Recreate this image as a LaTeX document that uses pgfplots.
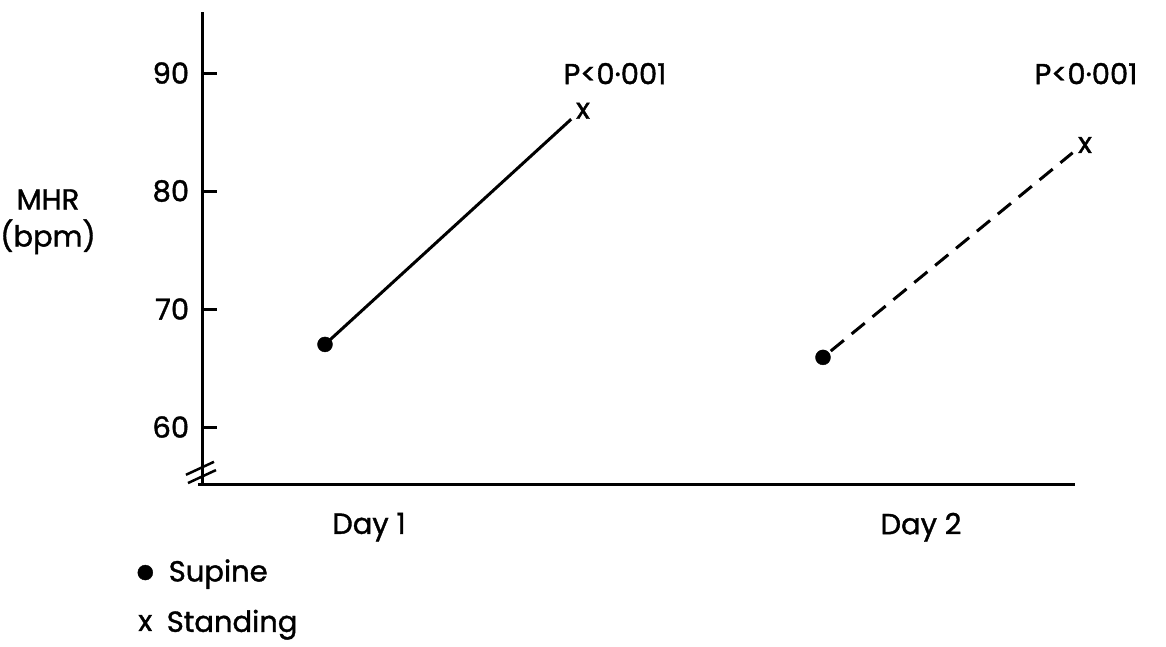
\documentclass[border=0pt]{standalone}
\usepackage{pgfplots}
\pgfplotsset{compat=1.18}
\usepackage{fontspec}
\setmainfont{Poppins}[FakeBold=1.3]
\begin{document}
\fontsize{29}{34}\selectfont
\begin{tikzpicture}
\begin{axis}[
  name=ax,
  x=1pt, y=11.8pt,
  xmin=203, xmax=1075, ymin=55.17, ymax=95.17,
  axis x line=bottom, axis y line=left,
  axis line style={-, line width=3pt},
  ytick={60,70,80,90},
  xtick={369,921}, xticklabels={Day 1, Day 2},
  tick align=inside,
  major tick length=14pt,
  ytick style={line width=3pt, black},
  xtick style={draw=none},
  yticklabel style={xshift=-4pt},
  xticklabel style={yshift=-19pt},
  /pgf/number format/assume math mode=true,
  tick label style={font=\fontsize{29}{34}\selectfont},
  clip=false,
  legend style={draw=none, fill=none, at={(axis description cs:-0.075,-0.155)}, anchor=north west,
    font=\fontsize{29}{34}\selectfont, row sep=20pt, inner sep=0pt},
  legend cell align=left,
]
\addlegendimage{only marks, mark=*, mark size=7.5pt, black}
\addlegendentry{\hspace{14pt}Supine}
\addlegendimage{only marks, mark=text, text mark={x}, black}
\addlegendentry{\hspace{12pt}Standing}
% Day 1
\addplot[black, line width=3pt, shorten >=16pt] coordinates {(325,67.0) (583,87.0)};
% Day 2
\addplot[black, line width=3pt, dash pattern=on 17pt off 10pt, shorten >=16pt, shorten <=10pt] coordinates {(823,65.9) (1085,84.1)};
% markers
\addplot[only marks, mark=*, mark size=7.5pt, black] coordinates {(325,67.0) (823,65.9)};
\addplot[only marks, mark=text, text mark={x}, black] coordinates {(583,86.8) (1085,83.9)};
% annotations
\node at (axis cs:615,89.95) {P<0·001};
\node at (axis cs:1086,89.95) {P<0·001};
\node[align=center, font=\fontsize{29}{37}\selectfont] at (axis cs:48,77.4) {MHR\\(bpm)};
% axis break
\draw[line width=3pt] (axis cs:198,55.17) -- (axis cs:203,55.17);
\draw[line width=2.5pt] (axis cs:186,55.95) -- (axis cs:214,57.05);
\draw[line width=2.5pt] (axis cs:188,55.25) -- (axis cs:216,56.35);
\end{axis}
\pgfresetboundingbox
\path ([shift={(-203pt,-163pt)}]ax.south west) rectangle ([shift={(963pt,484pt)}]ax.south west);
\end{tikzpicture}
\end{document}
